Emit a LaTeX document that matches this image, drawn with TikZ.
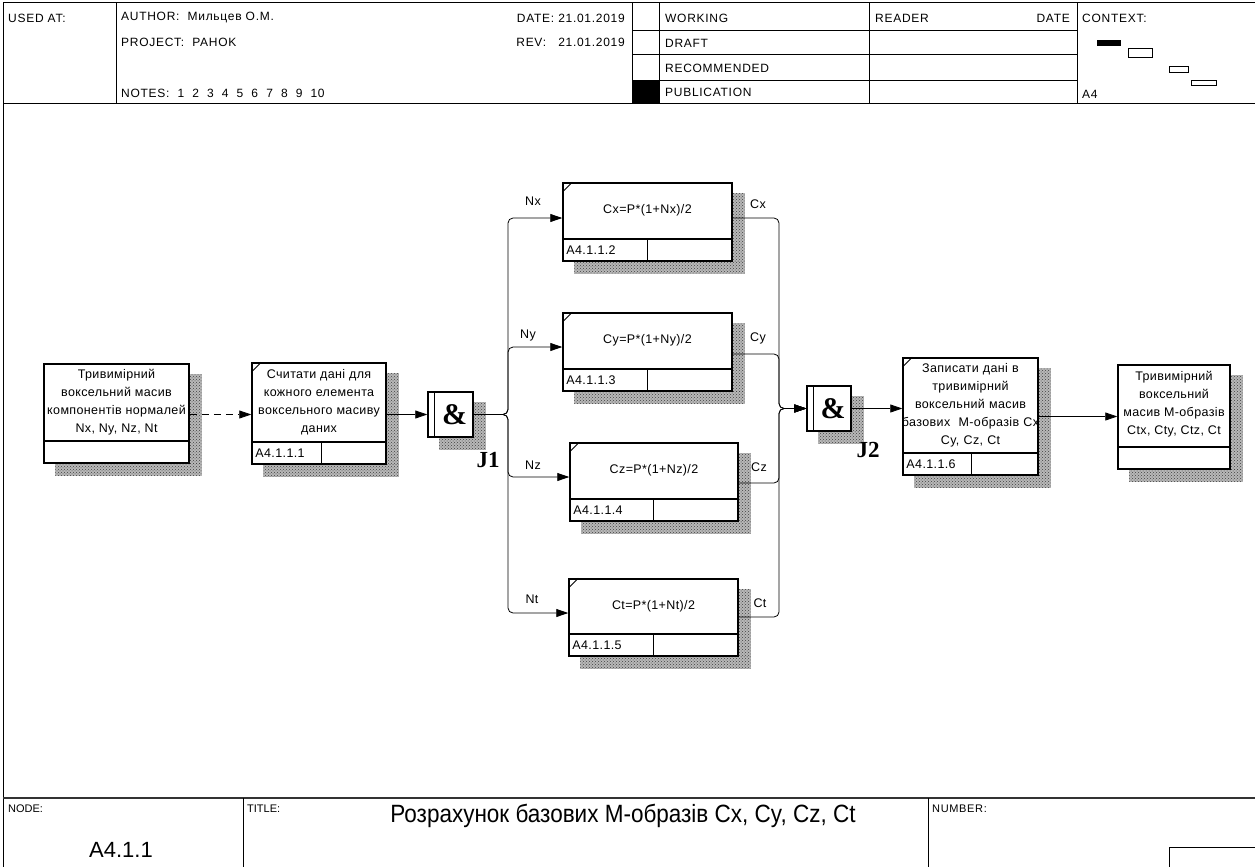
\documentclass[tikz,border=0pt]{standalone}
\usepackage{fontspec}
\setmainfont{Liberation Sans}[LetterSpace=3]
\newfontfamily\hdrfont{Liberation Sans}[LetterSpace=6]
\newfontfamily\narrowfont{Liberation Sans}[FakeStretch=0.9]
\newfontfamily\plainfont{Liberation Sans}
\newfontfamily\jfont{Liberation Serif}
\usetikzlibrary{arrows.meta,calc,patterns,backgrounds}

\newcommand\actdetails[3]{%
  \draw[line width=1.5pt] ([yshift=23pt]#1.south west) -- ([yshift=23pt]#1.south east);
  \draw[line width=1.5pt] ([xshift=#2pt]#1.south west) -- ([xshift=#2pt,yshift=23pt]#1.south west);
  \draw[line width=1pt] ([yshift=-10pt]#1.north west) -- ([xshift=10pt]#1.north west);
  \node[idtext, anchor=west] (#1id) at ([xshift=4pt,yshift=11.5pt]#1.south west) {#3};
}
\newcommand\datadetails[1]{%
  \draw[line width=1.5pt] ([yshift=23pt]#1.south west) -- ([yshift=23pt]#1.south east);
}
\newcommand\shadowof[1]{%
  \begin{scope}[on background layer]
  \fill[shad] ($(#1.north east)+(0,11)$) rectangle ($(#1.south east)+(12,12)$);
  \fill[shad] ($(#1.south west)+(12,0)$) rectangle ($(#1.south east)+(12,12)$);
  \end{scope}
}

\begin{document}
\begin{tikzpicture}[x=1pt,y=-1pt,
  box/.style={draw, line width=1.5pt, fill=white, rectangle, inner sep=0pt},
  jbox/.style={draw, line width=1.5pt, fill=white, rectangle, inner sep=0pt,
     minimum width=45, minimum height=45},
  btext/.style={align=center, font=\fontsize{12.5}{18}\selectfont, inner sep=0pt},
  idtext/.style={font=\fontsize{12.5}{14}\selectfont, inner sep=0pt},
  lbl/.style={font=\fontsize{12.5}{14}\selectfont, inner sep=0pt},
  jlbl/.style={font=\jfont\bfseries\fontsize{23}{26}\selectfont, inner sep=0pt},
  amp/.style={font=\jfont\bfseries\fontsize{30}{32}\selectfont, inner sep=0pt},
  conn/.style={line width=0.8pt},
  arr/.style={conn, -{Triangle[length=12pt,width=8pt]}},
  shad/.style={preaction={fill=black!28}, pattern=crosshatch dots, pattern color=black!75},
  hdr/.style={font=\hdrfont\fontsize{12}{14}\selectfont, inner sep=0pt},
  frame/.style={line width=1pt},
  thin/.style={line width=0.8pt}
]
\useasboundingbox (0,0) rectangle (1255,867);

% ---------------- header frame ----------------
\draw[frame] (3,3) -- (1255,3);
\draw[frame] (3,3) -- (3,867);
\draw[frame] (3,103) -- (1255,103);
\foreach \xx in {116,632,659,869,1077} \draw[frame] (\xx,3) -- (\xx,103);
\foreach \yy in {31,55,80} \draw[frame] (632,\yy) -- (1077,\yy);
\fill (632,80) rectangle (659,103);

\node[hdr, anchor=west] (usedat) at (8,18) {USED AT:};
\node[hdr, anchor=west] (author) at (121,18) {AUTHOR:~~Мильцев О.М.};
\node[hdr, anchor=west] (project) at (121,42) {PROJECT:~~PAHOK};
\node[hdr, anchor=west] (notes) at (121,93) {NOTES:~~1~~2~~3~~4~~5~~6~~7~~8~~9~~10};
\node[hdr, anchor=east] (date) at (625,18) {DATE:~21.01.2019};
\node[hdr, anchor=east] (rev) at (625,42) {REV:~~~21.01.2019};
\node[hdr, anchor=west] (working) at (665,18) {WORKING};
\node[hdr, anchor=west] (draft) at (665,43) {DRAFT};
\node[hdr, anchor=west] (recom) at (665,68) {RECOMMENDED};
\node[hdr, anchor=west] (publ) at (665,92) {PUBLICATION};
\node[hdr, anchor=west] (reader) at (875,18) {READER};
\node[hdr, anchor=east] (rdate) at (1070,18) {DATE};
\node[hdr, anchor=west] (context) at (1082,18) {CONTEXT:};
\node[hdr, anchor=west] (ctxa4) at (1082,94) {A4};
\fill (1097,40) rectangle (1121,46);
\draw[thin] (1128,48) rectangle (1152,57);
\draw[thin] (1169,66) rectangle (1188,72);
\draw[thin] (1191,80) rectangle (1216,85);

% ---------------- bottom frame ----------------
\draw[line width=1.6pt, black!80] (3,798) -- (1255,798);
\draw[frame] (243,798) -- (243,867);
\draw[frame] (928,798) -- (928,867);
\draw[frame] (1255,847) -- (1169,847) -- (1169,867);
\node[font=\plainfont\fontsize{11}{13}\selectfont, inner sep=0pt, anchor=west] (nodelbl) at (8,809) {NODE:};
\node[font=\plainfont\fontsize{11}{13}\selectfont, inner sep=0pt, anchor=west] (titlelbl) at (247,809) {TITLE:};
\node[font=\hdrfont\fontsize{11}{13}\selectfont, inner sep=0pt, anchor=west] (numlbl) at (932,809) {NUMBER:};
\node[font=\plainfont\fontsize{22}{24}\selectfont, inner sep=0pt] (nodeid) at (121,850) {A4.1.1};
\node[font=\narrowfont\fontsize{25}{28}\selectfont, inner sep=0pt] (title) at (623,816) {Розрахунок базових М-образів Cx, Cy, Cz, Ct};

% ---------------- boxes ----------------
\node[box, minimum width=145, minimum height=99] (b1) at (116.5,413.5) {};
\datadetails{b1}
\node[btext] (b1t) at ([yshift=11pt]b1.center) {Тривимірний\\воксельний масив\\компонентів нормалей\\Nx, Ny, Nz, Nt};
\shadowof{b1}

\node[box, minimum width=134, minimum height=101] (b2) at (319,413.5) {};
\actdetails{b2}{70}{A4.1.1.1}
\node[btext] (b2t) at ([yshift=11.5pt]b2.center) {Считати дані для\\кожного елемента\\воксельного масиву\\даних};
\shadowof{b2}

\node[jbox] (J1) at (450.5,414.5) {};
\draw[line width=1.5pt] ([xshift=7pt]J1.north west) -- ([xshift=7pt]J1.south west);
\node[amp] (J1amp) at ([xshift=4pt]J1.center) {\&};
\shadowof{J1}
\node[jlbl] (J1l) at (488,460) {J1};

\node[box, minimum width=169, minimum height=78] (Cx) at (647.5,222) {};
\actdetails{Cx}{85}{A4.1.1.2}
\node[btext] (Cxt) at ([yshift=11.5pt]Cx.center) {Cx=P*(1+Nx)/2};
\shadowof{Cx}

\node[box, minimum width=169, minimum height=78] (Cy) at (647.5,352) {};
\actdetails{Cy}{85}{A4.1.1.3}
\node[btext] (Cyt) at ([yshift=11.5pt]Cy.center) {Cy=P*(1+Ny)/2};
\shadowof{Cy}

\node[box, minimum width=168, minimum height=78] (Cz) at (654,482) {};
\actdetails{Cz}{84}{A4.1.1.4}
\node[btext] (Czt) at ([yshift=11.5pt]Cz.center) {Cz=P*(1+Nz)/2};
\shadowof{Cz}

\node[box, minimum width=169, minimum height=77] (Ct) at (653.5,617.5) {};
\actdetails{Ct}{85}{A4.1.1.5}
\node[btext] (Ctt) at ([yshift=11.5pt]Ct.center) {Ct=P*(1+Nt)/2};
\shadowof{Ct}

\node[jbox, minimum width=44] (J2) at (829,408.5) {};
\draw[line width=1.5pt] ([xshift=7pt]J2.north west) -- ([xshift=7pt]J2.south west);
\node[amp] (J2amp) at ([xshift=4pt]J2.center) {\&};
\shadowof{J2}
\node[jlbl] (J2l) at (868,450) {J2};

\node[box, minimum width=135, minimum height=117] (b6) at (970.5,416.5) {};
\actdetails{b6}{69}{A4.1.1.6}
\node[btext, text width=160, align=center] (b6t) at ([yshift=11pt]b6.center) {Записати дані в\\тривимірний\\воксельний масив\\базових~ М-образів Cx\\Cy, Cz, Ct};
\shadowof{b6}

\node[box, minimum width=112, minimum height=104] (b7) at (1174,417) {};
\datadetails{b7}
\node[btext] (b7t) at ([yshift=13pt]b7.center) {Тривимірний\\воксельний\\масив М-образів\\Ctx, Cty, Ctz, Ct};
\shadowof{b7}

% ---------------- connectors ----------------
\draw[arr, dash pattern=on 7pt off 5pt] (b1.east |- J1.west) -- (b2.west |- J1.west);
\draw[arr] (b2.east |- J1.west) -- (J1.west);

\coordinate (f1) at (508,414.5);
\draw[arr, rounded corners=5pt] (J1.east) -- (f1) |- ([yshift=4pt]Cx.west);
\draw[arr, rounded corners=5pt] (J1.east) -- (f1) |- ([yshift=5pt]Cy.west);
\draw[arr, rounded corners=5pt] (J1.east) -- (f1) |- ([yshift=5pt]Cz.west);
\draw[arr, rounded corners=5pt] (J1.east) -- (f1) |- ([yshift=4.5pt]Ct.west);

\coordinate (f2) at (779,408.5);
\draw[arr, rounded corners=5pt] ([yshift=4pt]Cx.east) -| (f2) -- (J2.west);
\draw[arr, rounded corners=5pt] ([yshift=-2pt]Cy.east) -| (f2) -- (J2.west);
\draw[arr, rounded corners=5pt] ([yshift=-1pt]Cz.east) -| (f2) -- (J2.west);
\draw[arr, rounded corners=5pt] ([yshift=0.5pt]Ct.east) -| (f2) -- (J2.west);

\draw[arr] (J2.east) -- (b6.west |- J2.east);
\draw[arr] (b6.east) -- (b7.west |- b6.east);

\node[lbl] (lnx) at (533,201) {Nx};
\node[lbl] (lny) at (528,335) {Ny};
\node[lbl] (lnz) at (533,465) {Nz};
\node[lbl] (lnt) at (532,599) {Nt};
\node[lbl] (lcx) at (758,204) {Cx};
\node[lbl] (lcy) at (758,338) {Cy};
\node[lbl] (lcz) at (759,467) {Cz};
\node[lbl] (lct) at (760,603) {Ct};
\end{tikzpicture}
\end{document}
